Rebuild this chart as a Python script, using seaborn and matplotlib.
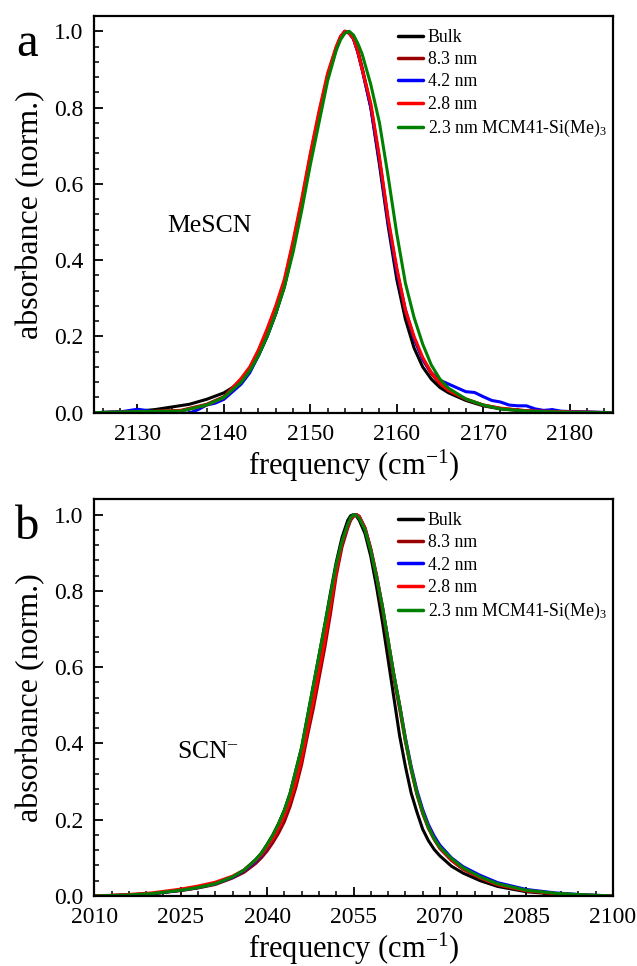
import numpy as np
import pandas as pd
import matplotlib
matplotlib.use('Agg')
import matplotlib.pyplot as plt
from matplotlib.ticker import MultipleLocator, FormatStrFormatter
import seaborn as sns

# ── Series names / colours ───────────────────────────────────
labels = ['Bulk', '8.3 nm', '4.2 nm', '2.8 nm', '2.3 nm MCM41-Si(Me)$_3$']
colors = ['#000000', '#9B0000', '#0000FF', '#FF0000', '#008000']

# ── Panel a: MeSCN ───────────────────────────────────────────
a_bulk_x = [2125, 2128, 2130, 2132, 2134, 2136, 2138, 2140, 2141, 2142, 2143, 2144, 2145, 2146,
            2147, 2148, 2149, 2150, 2151, 2152, 2153, 2153.5, 2154, 2154.5, 2155, 2155.5, 2156,
            2157, 2158, 2159, 2160, 2161, 2162, 2163, 2164, 2165, 2166, 2168, 2170, 2172, 2175,
            2180, 2185]
a_bulk_y = [0.0, 0.002, 0.004, 0.008, 0.015, 0.022, 0.035, 0.052, 0.066, 0.085, 0.11, 0.15, 0.2, 0.26,
            0.33, 0.43, 0.54, 0.66, 0.77, 0.88, 0.955, 0.985, 1.0, 0.995, 0.98, 0.945, 0.9,
            0.8, 0.65, 0.49, 0.35, 0.245, 0.17, 0.12, 0.088, 0.066, 0.052, 0.032, 0.018, 0.01, 0.004,
            0.001, 0.0]

a_83_x = [2125, 2130, 2135, 2138, 2140, 2142, 2143, 2144, 2145, 2146, 2147, 2148, 2149, 2150,
          2151, 2152, 2153, 2153.5, 2154, 2154.5, 2155, 2155.5, 2156, 2157, 2158, 2159, 2160, 2161,
          2162, 2163, 2164, 2165, 2166, 2168, 2170, 2172, 2175, 2180, 2185]
a_83_y = [0.0, 0.002, 0.006, 0.022, 0.042, 0.088, 0.118, 0.162, 0.215, 0.275, 0.345, 0.445, 0.555,
          0.675, 0.785, 0.885, 0.958, 0.985, 1.0, 0.996, 0.982, 0.95, 0.905, 0.805, 0.665, 0.505,
          0.375, 0.265, 0.195, 0.14, 0.102, 0.076, 0.058, 0.035, 0.02, 0.011, 0.005, 0.002, 0.0]

a_42_x = [2125, 2128, 2130, 2131, 2132, 2134, 2136, 2137, 2138, 2139, 2140, 2142, 2143, 2144,
          2145, 2146, 2147, 2148, 2149, 2150, 2151, 2152, 2153, 2153.5, 2154, 2154.5, 2155, 2155.5,
          2156, 2157, 2158, 2159, 2160, 2161, 2162, 2163, 2164, 2165, 2166, 2167, 2168, 2169, 2170,
          2171, 2172, 2173, 2174, 2175, 2176, 2177, 2178, 2179, 2180, 2182, 2185]
a_42_y = [0.0, 0.002, 0.009, 0.006, 0.002, -0.002, -0.001, 0.008, 0.02, 0.025, 0.035, 0.075, 0.105,
          0.15, 0.2, 0.26, 0.34, 0.44, 0.55, 0.67, 0.78, 0.88, 0.955, 0.985, 1.0, 0.995, 0.98, 0.945,
          0.9, 0.8, 0.66, 0.5, 0.37, 0.27, 0.195, 0.14, 0.105, 0.085, 0.075, 0.065, 0.055, 0.053,
          0.042, 0.032, 0.028, 0.02, 0.018, 0.018, 0.01, 0.006, 0.008, 0.004, 0.003, 0.002, 0.0]

a_28_x = [2125, 2130, 2135, 2138, 2140, 2142, 2143, 2144, 2145, 2146, 2147, 2148, 2149, 2150,
          2151, 2152, 2153, 2153.5, 2154, 2154.5, 2155, 2155.5, 2156, 2157, 2158, 2159, 2160, 2161,
          2162, 2163, 2164, 2165, 2166, 2168, 2170, 2172, 2175, 2180, 2185]
a_28_y = [0.0, 0.002, 0.005, 0.02, 0.04, 0.09, 0.12, 0.165, 0.22, 0.28, 0.35, 0.45, 0.56, 0.68,
          0.79, 0.89, 0.96, 0.987, 1.0, 0.995, 0.98, 0.946, 0.9, 0.81, 0.67, 0.51, 0.38, 0.27,
          0.2, 0.145, 0.105, 0.078, 0.058, 0.036, 0.02, 0.012, 0.005, 0.002, 0.0]

a_23_x = [2125, 2130, 2135, 2138, 2140, 2142, 2143, 2144, 2145, 2146, 2147, 2148, 2149, 2150,
          2151, 2152, 2153, 2153.5, 2154, 2154.5, 2155, 2155.5, 2156, 2157, 2158, 2159, 2160, 2161,
          2162, 2163, 2164, 2165, 2166, 2168, 2170, 2172, 2175, 2180, 2185]
a_23_y = [0.0, 0.003, 0.004, 0.02, 0.04, 0.08, 0.11, 0.15, 0.2, 0.26, 0.33, 0.42, 0.53, 0.65,
          0.76, 0.87, 0.95, 0.978, 0.995, 1.0, 0.99, 0.968, 0.94, 0.86, 0.76, 0.62, 0.47, 0.34,
          0.25, 0.18, 0.125, 0.088, 0.064, 0.036, 0.02, 0.01, 0.004, 0.001, 0.0]

# ── Panel b: SCN- ────────────────────────────────────────────
b_x = [2010, 2015, 2020, 2025, 2028, 2031, 2034, 2036, 2038, 2039, 2040, 2041, 2042, 2043, 2044,
       2045, 2046, 2047, 2048, 2049, 2050, 2051, 2052, 2053, 2054, 2054.5, 2055, 2055.5, 2056,
       2057, 2058, 2059, 2060, 2061, 2062, 2063, 2064, 2065, 2066, 2067, 2068, 2069, 2070, 2072,
       2074, 2077, 2080, 2085, 2090, 2095, 2100]
b_bulk_y = [0.0, 0.002, 0.006, 0.015, 0.022, 0.032, 0.05, 0.068, 0.095, 0.112, 0.135, 0.16, 0.19,
            0.225, 0.27, 0.33, 0.39, 0.47, 0.55, 0.63, 0.71, 0.795, 0.875, 0.94, 0.985, 0.997, 1.0,
            0.996, 0.985, 0.95, 0.89, 0.81, 0.72, 0.62, 0.52, 0.42, 0.34, 0.27, 0.22, 0.175, 0.145,
            0.122, 0.105, 0.078, 0.06, 0.04, 0.025, 0.011, 0.005, 0.002, 0.0]
b_83_y = [0.0, 0.002, 0.006, 0.014, 0.021, 0.03, 0.047, 0.062, 0.085, 0.1, 0.118, 0.14, 0.165,
          0.195, 0.235, 0.285, 0.345, 0.42, 0.49, 0.57, 0.65, 0.74, 0.84, 0.915, 0.965, 0.985,
          0.995, 1.0, 0.995, 0.962, 0.905, 0.832, 0.75, 0.66, 0.57, 0.49, 0.405, 0.33, 0.266,
          0.216, 0.177, 0.148, 0.124, 0.093, 0.07, 0.047, 0.029, 0.013, 0.006, 0.002, 0.0]
b_42_y = [0.0, 0.002, 0.006, 0.015, 0.022, 0.032, 0.049, 0.066, 0.09, 0.106, 0.126, 0.15, 0.178,
          0.21, 0.252, 0.305, 0.365, 0.44, 0.52, 0.6, 0.685, 0.77, 0.855, 0.925, 0.97, 0.988,
          0.997, 1.0, 0.995, 0.965, 0.91, 0.84, 0.76, 0.67, 0.58, 0.5, 0.415, 0.34, 0.277, 0.227,
          0.187, 0.157, 0.133, 0.1, 0.077, 0.054, 0.035, 0.017, 0.008, 0.003, 0.0]
b_28_y = [0.0, 0.003, 0.008, 0.018, 0.026, 0.036, 0.052, 0.068, 0.093, 0.108, 0.128, 0.15, 0.178,
          0.21, 0.25, 0.3, 0.36, 0.435, 0.51, 0.59, 0.67, 0.76, 0.85, 0.925, 0.97, 0.988, 0.997,
          1.0, 0.995, 0.965, 0.91, 0.84, 0.76, 0.67, 0.58, 0.5, 0.41, 0.335, 0.27, 0.22, 0.18,
          0.15, 0.126, 0.095, 0.072, 0.048, 0.03, 0.014, 0.006, 0.002, 0.0]
b_23_y = [0.0, 0.002, 0.006, 0.015, 0.022, 0.032, 0.05, 0.068, 0.095, 0.112, 0.135, 0.16, 0.19,
          0.225, 0.27, 0.33, 0.39, 0.47, 0.55, 0.63, 0.71, 0.79, 0.87, 0.93, 0.975, 0.992, 1.0,
          0.998, 0.99, 0.96, 0.905, 0.835, 0.76, 0.67, 0.58, 0.5, 0.41, 0.335, 0.27, 0.22, 0.18,
          0.15, 0.128, 0.098, 0.074, 0.05, 0.032, 0.015, 0.007, 0.003, 0.0]

panel_a = [(a_bulk_x, a_bulk_y), (a_83_x, a_83_y), (a_42_x, a_42_y), (a_28_x, a_28_y), (a_23_x, a_23_y)]
panel_b = [(b_x, b_bulk_y), (b_x, b_83_y), (b_x, b_42_y), (b_x, b_28_y), (b_x, b_23_y)]


def long_form(series):
    frames = []
    for lab, (xs, ys) in zip(labels, series):
        frames.append(pd.DataFrame({'freq': xs, 'abs': ys, 'sample': lab}))
    return pd.concat(frames, ignore_index=True)


sns.set_theme(style='ticks')
plt.rcParams['font.family'] = ['Liberation Serif', 'DejaVu Serif']
plt.rcParams['mathtext.fontset'] = 'custom'
plt.rcParams['mathtext.rm'] = 'Liberation Serif'
plt.rcParams['mathtext.it'] = 'Liberation Serif:italic'
plt.rcParams['text.color'] = 'black'

fig = plt.figure(figsize=(6.37, 9.66), dpi=100)
ax_a = fig.add_axes([0.148, 0.5728, 0.814, 0.4106])
ax_b = fig.add_axes([0.148, 0.0725, 0.814, 0.4106])

palette = dict(zip(labels, colors))

setups = [
    (ax_a, panel_a, (2125, 2185), 10, 2, 'a', 'MeSCN', 2133.4, 0.475),
    (ax_b, panel_b, (2010, 2100), 15, 3, 'b', 'SCN$^{\u2013}$', 2024.3, 0.362),
]

for ax, series, xlim, major, minor, letter, name, tx, ty in setups:
    df = long_form(series)
    sns.lineplot(data=df, x='freq', y='abs', hue='sample', hue_order=labels,
                 palette=palette, estimator=None, linewidth=2.2, ax=ax, legend=False)
    ax.set_xlim(*xlim)
    ax.set_ylim(0, 1.04)
    ax.xaxis.set_major_locator(MultipleLocator(major))
    ax.xaxis.set_minor_locator(MultipleLocator(minor))
    ax.yaxis.set_major_locator(MultipleLocator(0.2))
    ax.yaxis.set_minor_locator(MultipleLocator(0.04))
    ax.yaxis.set_major_formatter(FormatStrFormatter('%.1f'))
    ax.tick_params(which='major', direction='in', length=6.5, width=1.3, labelsize=17,
                   colors='black', pad=8)
    ax.tick_params(which='minor', direction='in', length=3.6, width=1.1, colors='black')
    for sp in ax.spines.values():
        sp.set_linewidth(1.6)
        sp.set_color('black')
    ax.set_xlabel('frequency (cm$^{-1}$)', fontsize=22, color='black')
    ax.set_ylabel('absorbance (norm.)', fontsize=23, color='black')
    ax.xaxis.set_label_coords(0.5, -0.088)
    ax.yaxis.set_label_coords(-0.094, 0.5)

    handles = [plt.Line2D([], [], color=c, lw=2.5) for c in colors]
    ax.legend(handles, labels, loc='upper left', bbox_to_anchor=(0.5855, 0.968),
              frameon=False, fontsize=12.8, handlelength=1.42, handletextpad=0.25,
              labelspacing=0.3, borderpad=0, borderaxespad=0, labelcolor='black')

    ax.text(tx, ty, name, fontsize=18.5, color='black', va='baseline')
    bbox = ax.get_position()
    fig.text(27.5 / 637, bbox.y1 - 40 / 966, letter, fontsize=35, ha='center',
             va='baseline', color='black')

plt.savefig('out.png', dpi=100)
plt.close()
